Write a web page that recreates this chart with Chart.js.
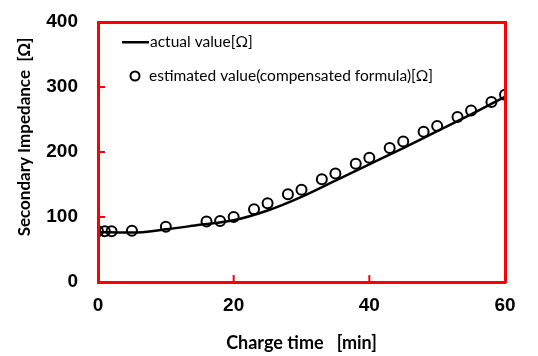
<!DOCTYPE html>
<html>
<head>
<meta charset="utf-8">
<script src="https://cdn.jsdelivr.net/npm/chart.js@4/dist/chart.umd.min.js"></script>
<style>
  html, body { margin: 0; padding: 0; background: #fff; }
  #wrap { width: 538px; height: 356px; }
</style>
</head>
<body>
<div id="wrap"><canvas id="chart"></canvas></div>
<script>
// charge time [min] / impedance [ohm]
const actualTimes = [0, 5, 10, 15, 20, 25, 30, 35, 40, 45, 50, 55, 60];
const actualValues = [77, 76, 81, 88, 95, 110, 131, 156, 181, 206, 232, 258, 285];

const estimatedTimes = [0, 1, 2, 5, 10, 16, 18, 20, 23, 25, 28, 30, 33, 35, 38, 40, 43, 45, 48, 50, 53, 55, 58, 60];
const estimatedValues = [78, 78, 78, 79, 85, 93, 94, 100, 112, 121, 135, 142, 158, 167, 182, 191, 206, 216, 231, 240, 254, 264, 277, 288];

const xTicks = [0, 20, 40, 60];
const yTicks = [0, 100, 200, 300, 400];

const legendLabels = ['actual value[Ω]', 'estimated value(compensated formula)[Ω]'];
const xTitle = 'Charge time   [min]';
const yTitle = 'Secondary Impedance  [Ω]';

const toPoints = (xs, ys) => xs.map((x, i) => ({ x: x, y: ys[i] }));

const tickFont = { family: 'Liberation Sans, Arial, sans-serif', size: 19, weight: 'bold' };
const titleFont = { family: 'Lato, sans-serif', size: 18, weight: 'bold' };

// frame, inner tick marks, y title and the legend inside the plot
const extrasPlugin = {
  id: 'extras',
  afterDraw(chart) {
    const { ctx, chartArea: a, scales } = chart;
    ctx.save();
    ctx.fillStyle = 'red';
    ctx.fillRect(a.left - 1, a.top - 1, a.right - a.left + 2, 3);
    ctx.fillRect(a.left - 1, a.bottom - 1, a.right - a.left + 2, 3);
    ctx.fillRect(a.left - 1, a.top - 1, 3, a.bottom - a.top + 2);
    ctx.fillRect(a.right - 1, a.top - 1, 3, a.bottom - a.top + 2);
    yTicks.forEach(v => {
      const py = scales.y.getPixelForValue(v);
      ctx.fillRect(a.left, py - 1, 7, 2);
    });
    xTicks.forEach(v => {
      const px = scales.x.getPixelForValue(v);
      ctx.fillRect(px - 1, a.bottom - 7, 2, 7);
    });
    ctx.fillStyle = '#000';

    // y title
    ctx.save();
    ctx.translate(25, 137);
    ctx.rotate(-Math.PI / 2);
    ctx.font = 'bold 17px Lato, sans-serif';
    ctx.textAlign = 'center';
    ctx.textBaseline = 'middle';
    ctx.fillText(yTitle, 0, 0);
    ctx.restore();

    // legend
    ctx.font = '15.5px Lato, sans-serif';
    ctx.textBaseline = 'middle';
    ctx.fillRect(a.left + 24, a.top + 19, 27, 2.5);
    ctx.fillText(legendLabels[0], a.left + 52, a.top + 20);
    ctx.strokeStyle = '#000';
    ctx.lineWidth = 2;
    ctx.beginPath();
    ctx.arc(a.left + 37, a.top + 54, 4.5, 0, Math.PI * 2);
    ctx.stroke();
    ctx.fillText(legendLabels[1], a.left + 51, a.top + 54);
    ctx.restore();
  }
};

new Chart(document.getElementById('chart'), {
  type: 'scatter',
  data: {
    datasets: [
      {
        label: legendLabels[0],
        data: toPoints(actualTimes, actualValues),
        showLine: true,
        borderColor: '#000',
        borderWidth: 2.5,
        pointRadius: 0,
        tension: 0.4,
        cubicInterpolationMode: 'monotone'
      },
      {
        label: legendLabels[1],
        data: toPoints(estimatedTimes, estimatedValues),
        showLine: false,
        borderColor: '#000',
        backgroundColor: 'rgba(255,255,255,0)',
        borderWidth: 2,
        pointRadius: 5,
        pointHoverRadius: 5
      }
    ]
  },
  options: {
    responsive: true,
    maintainAspectRatio: false,
    animation: false,
    layout: { padding: { left: 0, top: 22, right: 33, bottom: 0 } },
    plugins: {
      legend: { display: false },
      tooltip: { enabled: false }
    },
    scales: {
      x: {
        min: 0,
        max: 60,
        afterBuildTicks: s => { s.ticks = xTicks.map(v => ({ value: v })); },
        afterFit: s => { s.height = 74; s.paddingLeft = 0; s.paddingRight = 0; },
        grid: { display: false, drawTicks: false },
        border: { display: false },
        ticks: { color: '#000', font: tickFont, padding: 12, maxRotation: 0 },
        title: { display: true, text: xTitle, color: '#000', font: titleFont, padding: { top: 3, bottom: 2 } }
      },
      y: {
        min: 0,
        max: 400,
        afterBuildTicks: s => { s.ticks = yTicks.map(v => ({ value: v })); },
        afterFit: s => { s.width = 98; s.paddingTop = 0; s.paddingBottom = 0; },
        grid: { display: false, drawTicks: false },
        border: { display: false },
        ticks: { color: '#000', font: tickFont, padding: 20 }
      }
    }
  },
  plugins: [extrasPlugin]
});
</script>
</body>
</html>
